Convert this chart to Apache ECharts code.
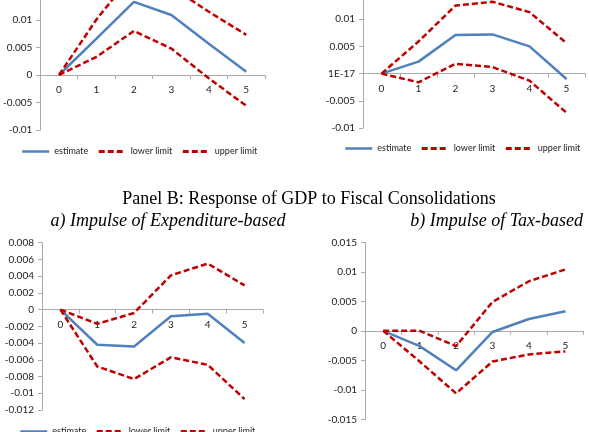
<!DOCTYPE html>
<html>
<head>
<meta charset="utf-8">
<script src="https://cdn.jsdelivr.net/npm/echarts@6/dist/echarts.min.js"></script>
<style>
  html, body { margin: 0; padding: 0; background: #fff; overflow: hidden; }
  /* the reference is a crop: the top panels run past the top edge, so the canvas starts 40px above the window */
  #chart { position: absolute; left: 0; top: -40px; width: 589px; height: 472px; }
</style>
</head>
<body>
<div id="chart"></div>
<script>
// horizons
const periods = ['0', '1', '2', '3', '4', '5']
const legendNames = ['estimate', 'lower limit', 'upper limit']

// top left panel
const tlEstimate = [0, 0.0066, 0.0133, 0.0109, 0.0057, 0.0006]
const tlLower = [0, 0.0033, 0.0080, 0.0048, -0.0006, -0.0056]
const tlUpper = [0, 0.0101, 0.0185, 0.0160, 0.0115, 0.0073]

// top right panel
const trEstimate = [0, 0.0022, 0.0071, 0.0072, 0.0050, -0.0010]
const trLower = [0, -0.0016, 0.0018, 0.0012, -0.0013, -0.0072]
const trUpper = [0, 0.0059, 0.0125, 0.0132, 0.0113, 0.0056]

// panel B a) expenditure-based
const blEstimate = [0, -0.0042, -0.0044, -0.0008, -0.0005, -0.0040]
const blLower = [0, -0.0068, -0.0083, -0.0057, -0.0066, -0.0107]
const blUpper = [0, -0.0017, -0.0004, 0.0041, 0.0055, 0.0029]

// panel B b) tax-based
const brEstimate = [0, -0.0026, -0.0067, -0.0002, 0.0020, 0.0033]
const brLower = [0, -0.0052, -0.0106, -0.0052, -0.0040, -0.0035]
const brUpper = [0, 0.0000, -0.0026, 0.0049, 0.0084, 0.0104]

const titleText = 'Panel B: Response of GDP to Fiscal Consolidations'
const subTitleA = 'a) Impulse of Expenditure-based'
const subTitleB = 'b) Impulse of Tax-based'

const BLUE = '#4F81BD'
const RED = '#C00000'
const AXIS = '#ABABAB'
const FONT = 'Lato'
const SHIFT = 40
const DASH = [6, 3]

const grids = [
  { left: 40, top: -35, width: 225, height: 165 },
  { left: 363, top: -8, width: 222, height: 136 },
  { left: 42, top: 242.7, width: 221, height: 167.3 },
  { left: 365, top: 242.3, width: 218.6, height: 177 },
]

const yRanges = [
  { min: -0.01, max: 0.02, interval: 0.005 },
  { min: -0.01, max: 0.015, interval: 0.005 },
  { min: -0.012, max: 0.008, interval: 0.002 },
  { min: -0.015, max: 0.015, interval: 0.005 },
]

const panels = [
  [tlEstimate, tlLower, tlUpper],
  [trEstimate, trLower, trUpper],
  [blEstimate, blLower, blUpper],
  [brEstimate, brLower, brUpper],
]

const legendPos = [
  { left: 16, top: 142 },
  { left: 339, top: 139 },
  { left: 14, top: 422 },
  { left: 339, top: 440 },
]

function fmtY(idx) {
  return (v) => {
    const n = parseFloat(Number(v).toFixed(4))
    if (idx === 1 && n === 0) return '1E-17'
    return String(n)
  }
}

// the category axis sits on the zero line, labels included (Excel style)
const xAxis = grids.map((g, i) => {
  const r = yRanges[i]
  return {
    type: 'category',
    gridIndex: i,
    data: periods,
    boundaryGap: true,
    offset: -g.height * (0 - r.min) / (r.max - r.min),
    axisLine: { onZero: false, lineStyle: { color: AXIS, width: 1 } },
    axisTick: { show: true, length: 4, lineStyle: { color: AXIS } },
    axisLabel: { color: '#222', fontFamily: FONT, fontSize: 10, margin: 10 },
    splitLine: { show: false },
  }
})

const yAxis = yRanges.map((r, i) => ({
  type: 'value',
  gridIndex: i,
  min: r.min,
  max: r.max,
  interval: r.interval,
  axisLine: { show: true, lineStyle: { color: AXIS, width: 1 } },
  axisTick: { show: true, length: 4, lineStyle: { color: AXIS } },
  axisLabel: { color: '#222', fontFamily: FONT, fontSize: 10, margin: 8, formatter: fmtY(i) },
  splitLine: { show: false },
}))

const series = []
panels.forEach((p, i) => {
  series.push({
    name: 'estimate', type: 'line', xAxisIndex: i, yAxisIndex: i,
    data: p[0], symbol: 'none', silent: true,
    lineStyle: { color: BLUE, width: 2.5 }, itemStyle: { color: BLUE },
  })
  series.push({
    name: 'lower limit', type: 'line', xAxisIndex: i, yAxisIndex: i,
    data: p[1], symbol: 'none', silent: true,
    lineStyle: { color: RED, width: 2.5, type: DASH }, itemStyle: { color: RED },
  })
  series.push({
    name: 'upper limit', type: 'line', xAxisIndex: i, yAxisIndex: i,
    data: p[2], symbol: 'none', silent: true,
    lineStyle: { color: RED, width: 2.5, type: DASH }, itemStyle: { color: RED },
  })
})

const legendData = legendNames.map((name, k) =>
  k === 0
    ? { name, lineStyle: { width: 2.5 } }
    : { name, lineStyle: { width: 3, type: [6, 3] } })

const legend = legendPos.map((pos) => ({
  data: legendData,
  left: pos.left,
  top: pos.top + SHIFT,
  width: 300,
  itemWidth: 27,
  itemHeight: 10,
  itemGap: 9,
  selectedMode: false,
  itemStyle: { opacity: 0 },
  textStyle: { fontFamily: FONT, fontSize: 9, color: '#222' },
}))

const chart = echarts.init(document.getElementById('chart'), null, { renderer: 'canvas' })
chart.setOption({
  animation: false,
  backgroundColor: '#fff',
  grid: grids.map((g) => ({ ...g, top: g.top + SHIFT, containLabel: false })),
  xAxis,
  yAxis,
  series,
  legend,
  graphic: [
    {
      type: 'text', x: 309, y: 199 + SHIFT,
      style: { text: titleText, font: '18px "Liberation Serif"', fill: '#000', textAlign: 'center', textVerticalAlign: 'middle' },
    },
    {
      type: 'text', x: 168, y: 221 + SHIFT,
      style: { text: subTitleA, font: 'italic 18px "Liberation Serif"', fill: '#000', textAlign: 'center', textVerticalAlign: 'middle' },
    },
    {
      type: 'text', x: 583, y: 221 + SHIFT,
      style: { text: subTitleB, font: 'italic 18px "Liberation Serif"', fill: '#000', textAlign: 'right', textVerticalAlign: 'middle' },
    },
  ],
})
</script>
</body>
</html>
